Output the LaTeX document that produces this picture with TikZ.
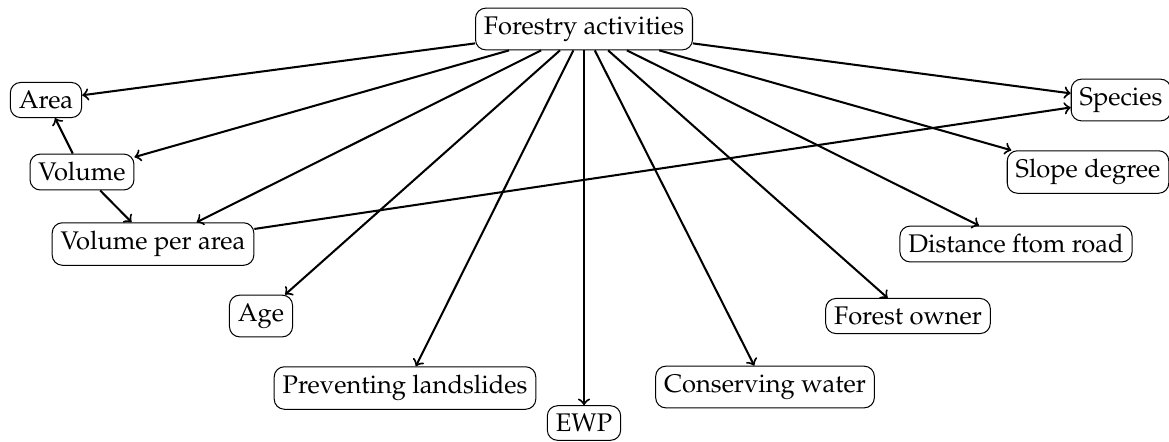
\documentclass[tikz,border=0pt]{standalone}
\usepackage[T1]{fontenc}
\usepackage{mathpazo}
\usepackage{tikz}
\usetikzlibrary{arrows,calc}

\begin{document}
\begin{tikzpicture}[x=0.392pt, y=-0.392pt,
        box/.style={draw, rounded corners=4pt, inner sep=3.3pt},
        link/.style={->, thick}]
            \useasboundingbox (0,0) rectangle (1169,441);
            \node[box] (fa) at (584,29) {Forestry activities};
            \node[box] (area) at (46,100) {Area};
            \node[box] (vol) at (82,172) {Volume};
            \node[box] (vpa) at (153,244) {Volume per area};
            \node[box] (age) at (261,316) {Age};
            \node[box] (land) at (405,388) {Preventing landslides};
            \node[box] (ewp) at (584,423) {EWP};
            \node[box] (water) at (765,387) {Conserving water};
            \node[box] (owner) at (908,316) {Forest owner};
            \node[box] (road) at (1016,244) {Distance ftom road};
            \node[box] (slope) at (1088,172) {Slope degree};
            \node[box] (spec) at (1121,100) {Species};

            \foreach \t in {area,vol,vpa,age,land,ewp,water,owner,road,slope,spec}
                \draw[link] (fa) -- (\t);
            \draw[link] (vol) -- (area);
            \draw[link] (vol) -- (vpa);
            \draw[link] (vpa) -- (spec);
        \end{tikzpicture}
\end{document}
